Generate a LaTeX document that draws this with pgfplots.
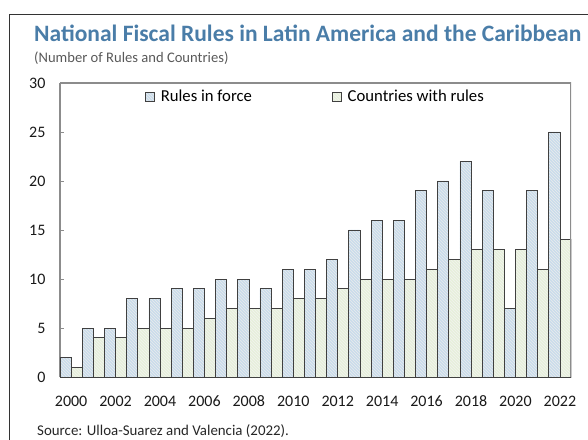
\documentclass[border=0pt]{standalone}
\usepackage{pgfplots}
\pgfplotsset{compat=1.18}
\usepackage{fontspec}
\setmainfont{Carlito}[Numbers=Lining]
\usetikzlibrary{patterns}
\definecolor{titleblue}{HTML}{4A7DA8}
\definecolor{barblue}{HTML}{C9DCEC}
\definecolor{bargreen}{HTML}{E7F0DB}
\definecolor{edgec}{HTML}{404040}
\definecolor{axisgray}{HTML}{8C8C8C}
\begin{document}
\begin{tikzpicture}
\useasboundingbox (0,0) rectangle (588pt,439pt);
\draw[black!80, line width=1pt] (9pt,-20pt) -- (9pt,424pt) -- (620pt,424pt);
\node[anchor=west, font=\fontsize{23.5}{28}\selectfont\bfseries, text=titleblue, inner sep=0pt] at (34pt,406pt) {National Fiscal Rules in Latin America and the Caribbean};
\node[anchor=west, font=\fontsize{14.6}{17}\selectfont, text=black!65, inner sep=0pt] at (34pt,381pt) {(Number of Rules and Countries)};
\node[anchor=west, font=\fontsize{14.9}{17}\selectfont, text=black!85, inner sep=0pt] at (37pt,8pt) {Source: Ulloa-Suarez and Valencia (2022).};
\begin{axis}[
  at={(60pt,62pt)}, anchor=south west,
  width=511pt, height=294pt, scale only axis,
  ybar=0pt, bar width=11.1pt,
  xmin=-0.5, xmax=22.5, ymin=0, ymax=30,
  ytick={0,5,...,30},
  xtick={0,2,...,22},
  xticklabels={2000,2002,2004,2006,2008,2010,2012,2014,2016,2018,2020,2022},
  /pgf/number format/assume math mode=true,
  ticklabel style={font=\fontsize{16}{19}\selectfont, text=black!90},
  xtick style={draw=none},
  ytick style={draw=axisgray, line width=0.6pt},
  tick align=inside, major tick length=4pt,
  axis x line*=bottom, axis y line*=left,
  axis line style={axisgray, line width=1.2pt},
  x axis line style={-}, y axis line style={-},
  xticklabel style={yshift=-15pt, text height=11pt, text depth=0pt},
  yticklabel style={xshift=-11pt},
  legend columns=2,
  legend style={at={(0.5,1)}, anchor=north, yshift=-3pt, draw=none, fill=none,
    font=\fontsize{16.7}{19}\selectfont,
    /tikz/every odd column/.append style={column sep=4pt},
    /tikz/every even column/.append style={column sep=78pt}},
  legend image code/.code={\draw[#1] (0pt,-4.5pt) rectangle (9pt,4.5pt);},
]
\addplot[draw=edgec, line width=0.7pt, fill=barblue, postaction={pattern=north west lines, pattern color=black!8}] coordinates {
(0,2) (1,5) (2,5) (3,8) (4,8) (5,9) (6,9) (7,10) (8,10) (9,9) (10,11) (11,11)
(12,12) (13,15) (14,16) (15,16) (16,19) (17,20) (18,22) (19,19) (20,7) (21,19) (22,25)};
\addlegendentry{Rules in force}
\addplot[draw=edgec, line width=0.7pt, fill=bargreen, postaction={pattern=north west lines, pattern color=black!5}] coordinates {
(0,1) (1,4) (2,4) (3,5) (4,5) (5,5) (6,6) (7,7) (8,7) (9,7) (10,8) (11,8)
(12,9) (13,10) (14,10) (15,10) (16,11) (17,12) (18,13) (19,13) (20,13) (21,11) (22,14)};
\addlegendentry{Countries with rules}
\draw[axisgray, line width=1.2pt] (rel axis cs:0,1) -- (rel axis cs:1,1) -- (rel axis cs:1,0);
\end{axis}
\end{tikzpicture}
\end{document}
